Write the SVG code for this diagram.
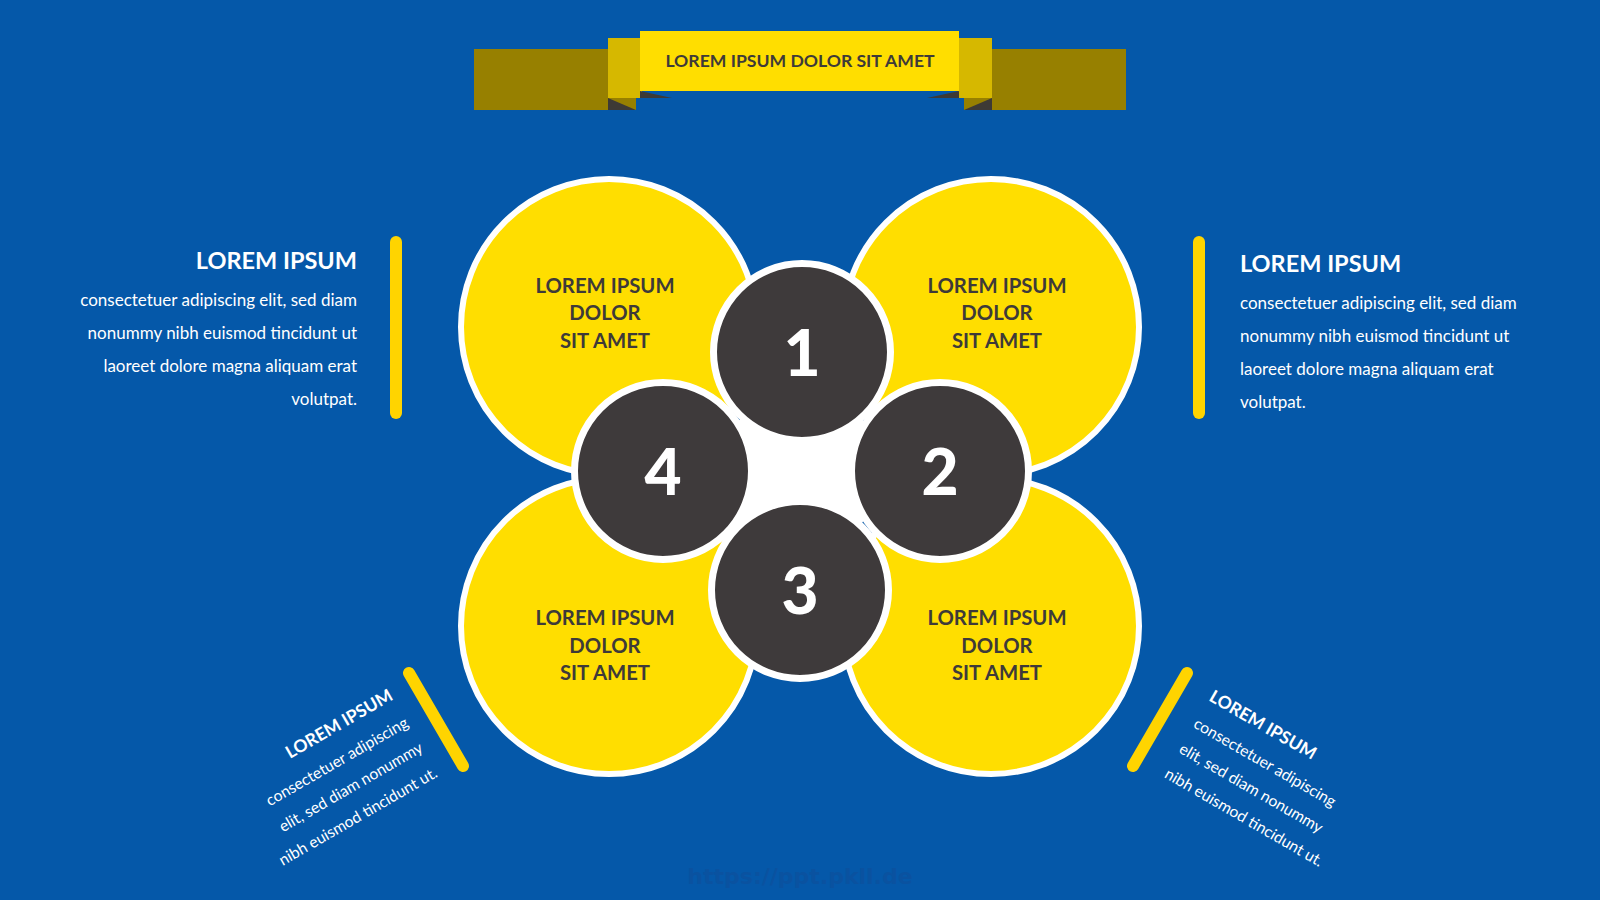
<svg xmlns="http://www.w3.org/2000/svg" width="1600" height="900" viewBox="0 0 1600 900">
<style>
.bg{fill:#0558a9}
.olive{fill:#978000}
.fold{fill:#d6b800}
.main{fill:#ffde00}
.shadow{fill:#3d3a35}
.petal{fill:#ffde00;stroke:#ffffff;stroke-width:6}
.hub{fill:#3e3a3b;stroke:#ffffff;stroke-width:7}
.bar{stroke:#ffd400;stroke-width:12;stroke-linecap:round;fill:none}
.ptxt{font-family:Lato,"Open Sans",sans-serif;font-weight:bold;font-size:20.3px;fill:#3e3a39;text-anchor:middle}
.num{font-family:Lato,"Open Sans",sans-serif;font-weight:900;font-size:64px;fill:#ffffff;text-anchor:middle}
.ttl{font-family:Lato,"Open Sans",sans-serif;font-weight:bold;font-size:23.5px;fill:#ffffff}
.body{font-family:Lato,"Open Sans",sans-serif;font-size:17px;fill:#ffffff}
.rttl{font-family:Lato,"Open Sans",sans-serif;font-weight:bold;font-size:17.5px;fill:#ffffff}
.rbody{font-family:Lato,"Open Sans",sans-serif;font-size:15.7px;fill:#ffffff}
.title{font-family:Lato,"Open Sans",sans-serif;font-weight:bold;font-size:17.6px;fill:#3e3a39;text-anchor:middle}
.wm{font-family:"DejaVu Sans",sans-serif;font-weight:bold;font-size:22px;fill:#0a52a0;text-anchor:middle}
</style>
<rect class="bg" x="0" y="0" width="1600" height="900"/>

<g id="banner">
  <rect class="olive" x="474" y="49" width="162" height="61"/>
  <rect class="olive" x="964" y="49" width="162" height="61"/>
  <polygon class="shadow" points="608,98 608,110 636,110"/>
  <polygon class="shadow" points="992,98 992,110 964,110"/>
  <rect class="fold" x="608" y="38" width="34" height="60"/>
  <rect class="fold" x="958" y="38" width="34" height="60"/>
  <polygon class="shadow" points="640,91 640,98 672,98"/>
  <polygon class="shadow" points="959,91 959,98 927,98"/>
  <rect class="main" x="640" y="31" width="319" height="60"/>
  <text class="title" x="800" y="67">LOREM IPSUM DOLOR SIT AMET</text>
</g>

<g id="petal-tl">
  <circle class="petal" cx="609" cy="327" r="148"/>
  <text class="ptxt" x="605" y="293">LOREM IPSUM</text>
  <text class="ptxt" x="605" y="320">DOLOR</text>
  <text class="ptxt" x="605" y="348">SIT AMET</text>
</g>
<g id="petal-tr">
  <circle class="petal" cx="991" cy="327" r="148"/>
  <text class="ptxt" x="997" y="293">LOREM IPSUM</text>
  <text class="ptxt" x="997" y="320">DOLOR</text>
  <text class="ptxt" x="997" y="348">SIT AMET</text>
</g>
<g id="petal-bl">
  <circle class="petal" cx="609" cy="626" r="148"/>
  <text class="ptxt" x="605" y="625">LOREM IPSUM</text>
  <text class="ptxt" x="605" y="653">DOLOR</text>
  <text class="ptxt" x="605" y="680">SIT AMET</text>
</g>
<g id="petal-br">
  <circle class="petal" cx="991" cy="626" r="148"/>
  <text class="ptxt" x="997" y="625">LOREM IPSUM</text>
  <text class="ptxt" x="997" y="653">DOLOR</text>
  <text class="ptxt" x="997" y="680">SIT AMET</text>
</g>

<g id="center">
  <circle cx="801" cy="471" r="80" fill="#ffffff"/>
</g>

<g id="hub-1">
  <circle class="hub" cx="802" cy="352" r="88.5"/>
  <text class="num" x="802" y="376">1</text>
</g>
<g id="hub-2">
  <circle class="hub" cx="940" cy="471" r="88.5"/>
  <text class="num" x="940" y="495">2</text>
</g>
<g id="hub-3">
  <circle class="hub" cx="800" cy="590" r="88.5"/>
  <text class="num" x="800" y="614">3</text>
</g>
<g id="hub-4">
  <circle class="hub" cx="663" cy="471" r="88.5"/>
  <text class="num" x="663" y="495">4</text>
</g>

<g id="connectors">
  <line class="bar" x1="396" y1="242" x2="396" y2="413"/>
  <line class="bar" x1="1199" y1="242" x2="1199" y2="413"/>
  <line class="bar" x1="409" y1="673" x2="463" y2="766"/>
  <line class="bar" x1="1187" y1="673" x2="1133" y2="766"/>
</g>

<g id="note-left">
  <text class="ttl" x="357" y="269" text-anchor="end">LOREM IPSUM</text>
  <text class="body" x="357" y="306" text-anchor="end">consectetuer adipiscing elit, sed diam</text>
  <text class="body" x="357" y="339" text-anchor="end">nonummy nibh euismod tincidunt ut</text>
  <text class="body" x="357" y="372" text-anchor="end">laoreet dolore magna aliquam erat</text>
  <text class="body" x="357" y="405" text-anchor="end">volutpat.</text>
</g>
<g id="note-right">
  <text class="ttl" x="1240" y="272">LOREM IPSUM</text>
  <text class="body" x="1240" y="309">consectetuer adipiscing elit, sed diam</text>
  <text class="body" x="1240" y="342">nonummy nibh euismod tincidunt ut</text>
  <text class="body" x="1240" y="375">laoreet dolore magna aliquam erat</text>
  <text class="body" x="1240" y="408">volutpat.</text>
</g>
<g id="note-bl" transform="translate(394,699) rotate(-30)">
  <text class="rttl" x="0" y="0" text-anchor="end">LOREM IPSUM</text>
  <text class="rbody" x="0" y="31" text-anchor="end">consectetuer adipiscing</text>
  <text class="rbody" x="0" y="60" text-anchor="end">elit, sed diam nonummy</text>
  <text class="rbody" x="0" y="89" text-anchor="end">nibh euismod tincidunt ut.</text>
</g>
<g id="note-br" transform="translate(1208,700) rotate(30)">
  <text class="rttl" x="0" y="0">LOREM IPSUM</text>
  <text class="rbody" x="0" y="31">consectetuer adipiscing</text>
  <text class="rbody" x="0" y="60">elit, sed diam nonummy</text>
  <text class="rbody" x="0" y="89">nibh euismod tincidunt ut.</text>
</g>

<text class="wm" x="800" y="884">https://ppt.pkll.de</text>
</svg>
